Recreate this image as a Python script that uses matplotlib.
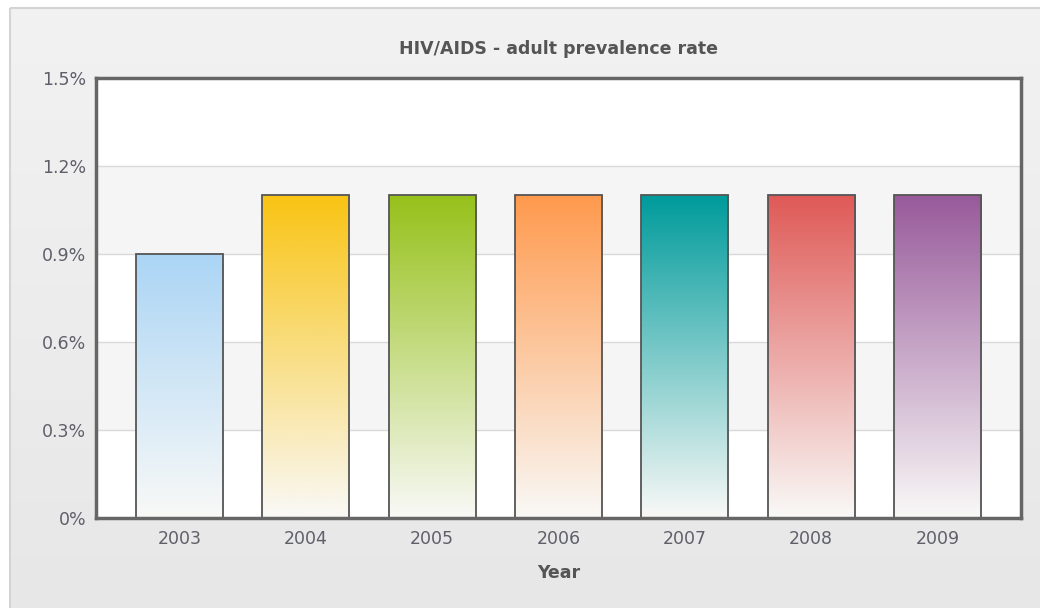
import numpy as np
import matplotlib.pyplot as plt
from matplotlib.patches import Rectangle
from matplotlib.colors import to_rgb

years = ['2003', '2004', '2005', '2006', '2007', '2008', '2009']
prevalence = [0.9, 1.1, 1.1, 1.1, 1.1, 1.1, 1.1]
bar_colors = ['#abd5f5', '#f9c414', '#96c11a', '#ff9a4e', '#009b9b', '#df5a57', '#985a9b']
yticks = [0, 0.3, 0.6, 0.9, 1.2, 1.5]
ytick_labels = ['0%', '0.3%', '0.6%', '0.9%', '1.2%', '1.5%']

W, H = 1040, 608
fig = plt.figure(figsize=(W / 100, H / 100), dpi=100)
fig.patch.set_facecolor('white')

# panel background with soft vertical gradient
bg = fig.add_axes([0, 0, 1, 1])
bg.set_xlim(0, W)
bg.set_ylim(H, 0)
bg.axis('off')
grad = np.linspace(0, 1, 256).reshape(-1, 1)
top_c = np.array(to_rgb('#f2f2f2'))
bot_c = np.array(to_rgb('#e7e7e7'))
img = top_c * (1 - grad[..., None]) + bot_c * grad[..., None]
bg.imshow(img, extent=[10, W + 5, H + 5, 8], aspect='auto', zorder=0)
bg.add_patch(Rectangle((10, 8), W, H, fill=False, edgecolor='#d4d4d4', linewidth=1.5, zorder=1))

# plot area
left, right, top, bottom = 96, 1021, 78, 518
ax = fig.add_axes([left / W, 1 - bottom / H, (right - left) / W, (bottom - top) / H])
ax.set_facecolor('white')

# alternating horizontal bands
for i in range(len(yticks) - 1):
    if i % 2 == 1:
        ax.axhspan(yticks[i], yticks[i + 1], color='#f5f5f5', zorder=0, linewidth=0)
for y in yticks[1:-1]:
    ax.axhline(y, color='#d9d9d9', linewidth=1, zorder=1)

# gradient bars, fading from the colour at the top to off-white at the base
bw = 0.69
base = np.array(to_rgb('#f9f9f7'))
fade = np.linspace(0.0, 1, 256)[:, None, None]
for i, (val, col) in enumerate(zip(prevalence, bar_colors)):
    c = np.array(to_rgb(col))
    bar_img = base * (1 - fade) + c * fade
    bar_img = np.repeat(bar_img, 2, axis=1)
    ax.imshow(bar_img, extent=[i - bw / 2, i + bw / 2, 0, val], origin='lower',
              aspect='auto', zorder=2)
    ax.add_patch(Rectangle((i - bw / 2, 0), bw, val, fill=False,
                           edgecolor='#555555', linewidth=1.3, zorder=3))

ax.set_xlim(-0.66, len(years) - 1 + 0.66)
ax.set_ylim(0, 1.5)
ax.set_xticks(range(len(years)))
ax.set_xticklabels(years)
ax.set_yticks(yticks)
ax.set_yticklabels(ytick_labels)
ax.tick_params(length=0, labelsize=12.5, colors='#5f5f6a', pad=9)
ax.tick_params(axis='y', pad=7)
for s in ax.spines.values():
    s.set_color('#666666')
    s.set_linewidth(2.5)
    s.set_zorder(5)

ax.set_xlabel('Year', fontsize=12.5, fontweight='bold', color='#555555', labelpad=11)
ax.set_title('HIV/AIDS - adult prevalence rate', fontsize=12.5, fontweight='bold',
             color='#555555', pad=17)

fig.savefig('out.png', dpi=100)
